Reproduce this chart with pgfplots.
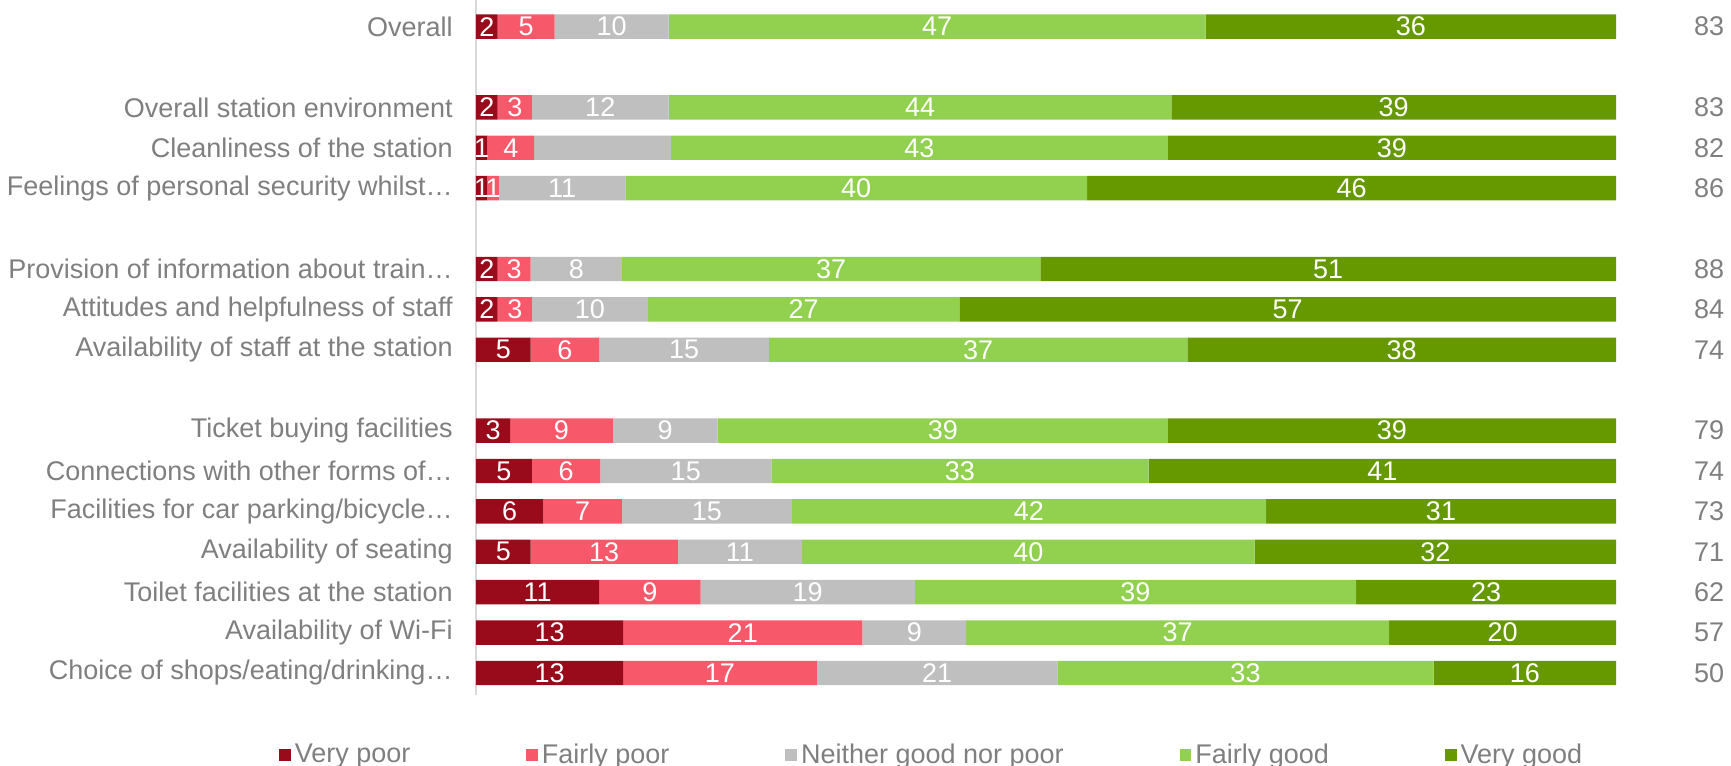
\documentclass[border=0pt]{standalone}
\usepackage{pgfplots}
\usepackage{pgfplotstable}
\pgfplotsset{compat=1.18}
\usepackage{fontspec}
\setmainfont{Liberation Sans}
\definecolor{vpoor}{HTML}{990A1A}
\definecolor{fpoor}{HTML}{F7596A}
\definecolor{neith}{HTML}{BFBFBF}
\definecolor{fgood}{HTML}{92D050}
\definecolor{vgood}{HTML}{669900}
\definecolor{txt}{HTML}{7F7F7F}

\pgfplotstableread[col sep=comma]{
y,x,lab
0,1.9,2
2,1.9,2
3,1.0,1
4,1.0,1
6,1.9,2
7,1.9,2
8,4.8,5
10,3.0,3
11,4.9,5
12,5.9,6
13,4.8,5
14,10.8,11
15,12.9,13
16,12.9,13
}\verypoor
\pgfplotstableread[col sep=comma]{
y,x,lab
0,5.0,5
2,3.0,3
3,4.1,4
4,1.0,1
6,2.9,3
7,3.0,3
8,6.0,6
10,9.0,9
11,6.0,6
12,6.9,7
13,12.9,13
14,8.9,9
15,21.0,21
16,17.0,17
}\fairlypoor
\pgfplotstableread[col sep=comma]{
y,x,lab
0,10.0,10
2,12.0,12
3,12.0,{}
4,11.1,11
6,8.0,8
7,10.2,10
8,14.9,15
10,9.2,9
11,15.0,15
12,14.9,15
13,10.9,11
14,18.8,19
15,9.1,9
16,21.1,21
}\neither
\pgfplotstableread[col sep=comma]{
y,x,lab
0,47.1,47
2,44.1,44
3,43.6,43
4,40.5,40
6,36.7,37
7,27.3,27
8,36.7,37
10,39.5,39
11,33.1,33
12,41.6,42
13,39.7,40
14,38.7,39
15,37.1,37
16,33.0,33
}\fairlygood
\pgfplotstableread[col sep=comma]{
y,x,lab
0,36.0,36
2,39.0,39
3,39.3,39
4,46.4,46
6,50.5,51
7,57.6,57
8,37.6,38
10,39.3,39
11,41.0,41
12,30.7,31
13,31.7,32
14,22.8,23
15,19.9,20
16,16.0,16
}\verygood

\begin{document}
\begin{tikzpicture}[font=\fontsize{13.5pt}{16pt}\selectfont]
\path[use as bounding box] (0,0) rectangle (865.5pt,383pt);
\begin{axis}[
  at={(238pt,35.4pt)}, anchor=south west,
  scale only axis, width=570pt, height=347.44pt,
  xbar stacked, bar width=12.2pt,
  xmin=0, xmax=100,
  ymin=-0.65, ymax=16.55, y dir=reverse,
  hide x axis,
  axis y line*=left,
  y axis line style={draw=black!15, line width=0.8pt},
  ytick={0,2,3,4,6,7,8,10,11,12,13,14,15,16},
  yticklabels={Overall,Overall station environment,Cleanliness of the station,Feelings of personal security whilst…,Provision of information about train…,Attitudes and helpfulness of staff,Availability of staff at the station,Ticket buying facilities,Connections with other forms of…,Facilities for car parking/bicycle…,Availability of seating,Toilet facilities at the station,Availability of Wi-Fi,Choice of shops/eating/drinking…},
  major tick length=0pt,
  yticklabel style={text=txt, inner sep=0pt, anchor=east, xshift=-11.5pt},
  point meta=explicit symbolic,
  nodes near coords,
  every node near coord/.append style={text=white, anchor=center, inner sep=0pt},
  legend columns=5,
  legend style={at={(-0.173,-0.086)}, anchor=west, draw=none, fill=none, inner sep=0pt,
    text=txt, /tikz/every even column/.append style={column sep=56pt}},
  legend image code/.code={\fill[#1] (0pt,-3.1pt) rectangle (5.8pt,3.1pt);},
]
\addplot[fill=vpoor, draw=none] table[x=x, y=y, meta=lab] {\verypoor};
\addlegendentry{Very poor}
\addplot[fill=fpoor, draw=none] table[x=x, y=y, meta=lab] {\fairlypoor};
\addlegendentry{Fairly poor}
\addplot[fill=neith, draw=none] table[x=x, y=y, meta=lab] {\neither};
\addlegendentry{Neither good nor poor}
\addplot[fill=fgood, draw=none] table[x=x, y=y, meta=lab] {\fairlygood};
\addlegendentry{Fairly good}
\addplot[fill=vgood, draw=none] table[x=x, y=y, meta=lab] {\verygood};
\addlegendentry{Very good}
\end{axis}
\begin{axis}[
  at={(238pt,35.4pt)}, anchor=south west,
  scale only axis, width=570pt, height=347.44pt,
  xmin=0, xmax=100,
  ymin=-0.65, ymax=16.55, y dir=reverse,
  hide x axis,
  axis y line*=right,
  y axis line style={draw=none},
  major tick length=0pt,
  ytick={0,2,3,4,6,7,8,10,11,12,13,14,15,16},
  yticklabels={83,83,82,86,88,84,74,79,74,73,71,62,57,50},
  yticklabel style={text=txt, inner sep=0pt, anchor=center, xshift=46.5pt},
]
\end{axis}
\end{tikzpicture}
\end{document}
